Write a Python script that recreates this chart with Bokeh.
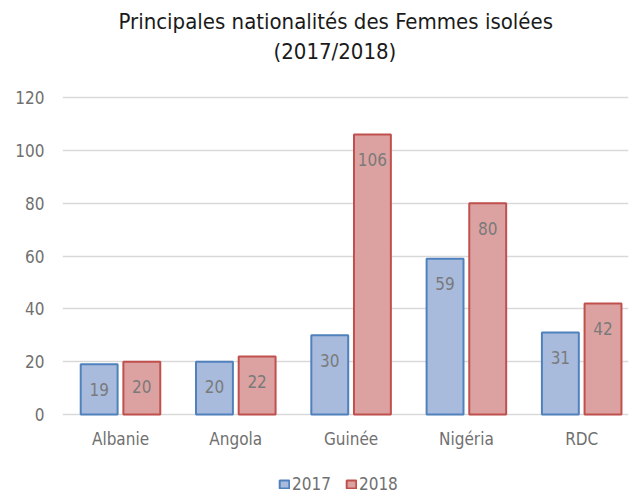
from bokeh.plotting import figure
from bokeh.models import ColumnDataSource, Range1d, FixedTicker, Title, Legend, LegendItem
from bokeh.core.properties import value
from bokeh.embed import file_html
from bokeh.resources import INLINE

categories = ["Albanie", "Angola", "Guinée", "Nigéria", "RDC"]
values_2017 = [19, 20, 30, 59, 31]
values_2018 = [20, 22, 106, 80, 42]
y_ticks = [0, 20, 40, 60, 80, 100, 120]

FONT = "DejaVu Sans Condensed"
idx = list(range(len(categories)))

src17 = ColumnDataSource(dict(x=[i - 0.185 for i in idx], top=values_2017, lab=[str(v) for v in values_2017]))
src18 = ColumnDataSource(dict(x=[i + 0.185 for i in idx], top=values_2018, lab=[str(v) for v in values_2018]))
src_cat = ColumnDataSource(dict(x=idx, y=[0] * len(idx), lab=categories))

# frame extends below the zero line so the legend can sit inside it
p = figure(frame_width=566, frame_height=400, output_backend="svg", toolbar_location=None,
           x_range=Range1d(-0.503, 4.406), y_range=Range1d(-30.66, 120.76),
           min_border_left=62, min_border_right=3, min_border_top=95, min_border_bottom=0)
p.outline_line_color = None

r17 = p.vbar(x="x", top="top", width=0.32, bottom=0, source=src17,
             fill_color="#a8bbdd", line_color="#4f81bd", line_width=2)
r18 = p.vbar(x="x", top="top", width=0.32, bottom=0, source=src18,
             fill_color="#dca2a1", line_color="#c0504d", line_width=2)

for s in (src17, src18):
    p.text(x="x", y="top", text="lab", source=s, text_align="center", text_baseline="middle",
           y_offset=25, text_font=value(FONT), text_font_size="17px", text_color="#7a7a7a")

# category labels under the zero line
p.text(x="x", y="y", text="lab", source=src_cat, text_align="center", text_baseline="middle",
       y_offset=24, text_font=value(FONT), text_font_size="17px", text_color="#707070")

p.xaxis.visible = False
p.yaxis.ticker = FixedTicker(ticks=y_ticks)
ax = p.yaxis[0]
ax.axis_line_color = None
ax.major_tick_line_color = None
ax.minor_tick_line_color = None
ax.major_tick_out = 0
ax.major_tick_in = 0
ax.major_label_text_font = FONT
ax.major_label_text_font_size = "17px"
ax.major_label_text_color = "#707070"
ax.major_label_standoff = 18
p.xgrid.grid_line_color = None
p.ygrid.grid_line_color = "#d9d9d9"
p.ygrid.grid_line_width = 1.5
p.ygrid.ticker = FixedTicker(ticks=y_ticks)

legend = Legend(items=[LegendItem(label="2017", renderers=[r17]), LegendItem(label="2018", renderers=[r18])],
                orientation="horizontal", location=(216, 1), border_line_color=None,
                background_fill_alpha=0,
                label_text_font=FONT, label_text_font_size="17px", label_text_color="#707070",
                glyph_width=12, glyph_height=10, spacing=14, label_standoff=2, padding=2, margin=0)
p.add_layout(legend)

p.add_layout(Title(text=" ", text_font_size="10px", standoff=17), "above")
p.add_layout(Title(text="(2017/2018)", align="left", offset=211, text_font=FONT, text_font_size="22px",
                   text_font_style="normal", text_color="#1a1a1a", standoff=3), "above")
p.add_layout(Title(text="Principales nationalités des Femmes isolées", align="left", offset=56,
                   text_font=FONT, text_font_size="22px", text_font_style="normal",
                   text_color="#1a1a1a", standoff=3), "above")

open("out.html", "w").write(file_html(p, INLINE))
